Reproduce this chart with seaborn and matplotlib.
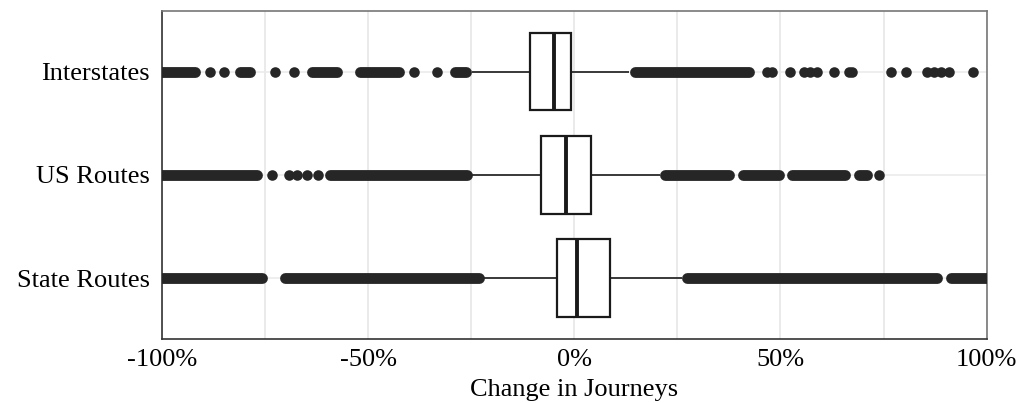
import pandas as pd
import matplotlib
matplotlib.use("Agg")
import matplotlib.pyplot as plt
import seaborn as sns
from matplotlib.ticker import MultipleLocator, FuncFormatter

# box summaries (% change)
roads = ["Interstates", "US Routes", "State Routes"]
whisker_lo = [-24.8, -24.8, -22.0]
q1 = [-10.8, -8.0, -4.2]
median = [-5.0, -2.0, 0.6]
q3 = [-0.7, 4.1, 8.6]
whisker_hi = [13.2, 20.9, 26.1]

# single outlier points
inter_dots = [-88.3, -85.0, -72.6, -68.0, -39.0, -33.2, 46.8, 48.0, 52.4, 55.6,
              57.1, 58.9, 63.1, 66.7, 67.4, 76.7, 80.5, 85.6, 87.3, 89.0, 90.9, 96.7]
us_dots = [-73.4, -69.3, -67.3, -64.9, -62.1, 73.9]
state_dots = []

# runs of outliers too dense to tell apart (first, last)
inter_runs = [(-100, -92.0), (-81.1, -78.6), (-63.7, -57.6), (-51.9, -42.6),
              (-28.9, -26.3), (14.8, 42.3)]
us_runs = [(-100, -77.0), (-59.2, -26.0), (22.1, 37.5), (40.9, 49.6),
           (52.8, 65.6), (69.0, 71.0)]
state_runs = [(-100, -75.8), (-70.1, -23.2), (27.4, 88.0), (91.3, 100)]

xticks = [-100, -50, 0, 50, 100]

def main():
    sns.set_theme(style="whitegrid")
    plt.rcParams["font.family"] = ["Liberation Serif", "DejaVu Serif"]

    rows = []
    for i, r in enumerate(roads):
        for v in (whisker_lo[i], q1[i], median[i], q3[i], whisker_hi[i]):
            rows.append({"road": r, "change": v})
    boxes = pd.DataFrame(rows)

    dots = pd.DataFrame(
        [{"road": roads[0], "change": v} for v in inter_dots]
        + [{"road": roads[1], "change": v} for v in us_dots]
        + [{"road": roads[2], "change": v} for v in state_dots]
    )
    runs = [inter_runs, us_runs, state_runs]

    fig, ax = plt.subplots(figsize=(10.32, 4.03), dpi=100)
    fig.subplots_adjust(left=0.157, right=0.956, top=0.973, bottom=0.159)

    dot_col = "#262626"
    sns.boxplot(data=boxes, x="change", y="road", order=roads, orient="h",
                width=0.75, color="white", saturation=1, linecolor="#1a1a1a",
                linewidth=1.6, showfliers=False, showcaps=False,
                medianprops={"linewidth": 2.8},
                whiskerprops={"linewidth": 1.2}, ax=ax)

    sns.stripplot(data=dots, x="change", y="road", order=roads, orient="h",
                  jitter=False, color=dot_col, size=7.6, linewidth=0,
                  zorder=4, ax=ax)

    for i, rr in enumerate(runs):
        for a, b in rr:
            lc = ax.hlines(i, a, b, color=dot_col, linewidth=7.8, zorder=4)
            lc.set_capstyle("round")

    ax.set_xlim(-100, 100)
    ax.set_ylim(2.59, -0.59)
    ax.set_xticks(xticks)
    ax.xaxis.set_minor_locator(MultipleLocator(25))
    ax.xaxis.set_major_formatter(FuncFormatter(lambda v, p: f"{v:.0f}%"))
    ax.grid(which="both", axis="x", color="#e8e8e8", linewidth=1.3)
    ax.grid(which="major", axis="y", color="#ebebeb", linewidth=1.2)
    ax.set_axisbelow(True)

    ax.tick_params(axis="both", which="major", length=4, width=1.0,
                   color="#333333", labelsize=19, labelcolor="black")
    ax.tick_params(axis="y", pad=5)
    ax.tick_params(axis="x", pad=3)
    ax.tick_params(axis="x", which="minor", length=0)
    ax.set_xlabel("Change in Journeys", fontsize=19, labelpad=6, color="black")
    ax.set_ylabel("")

    for side in ["left", "bottom"]:
        ax.spines[side].set_color("#333333")
        ax.spines[side].set_linewidth(1.2)
    for side in ["top", "right"]:
        ax.spines[side].set_color("#777777")
        ax.spines[side].set_linewidth(1.2)

    fig.savefig("out.png", dpi=100, facecolor="white")

if __name__ == "__main__":
    main()
